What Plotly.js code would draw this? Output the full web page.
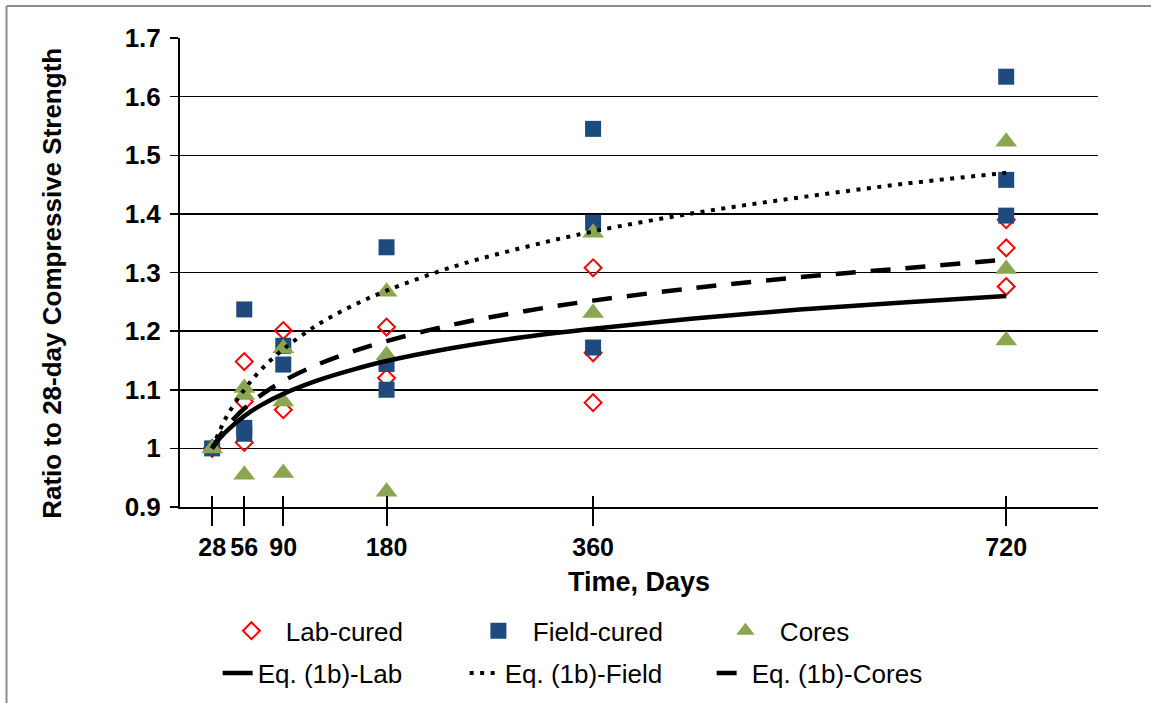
<!DOCTYPE html>
<html>
<head>
<meta charset="utf-8">
<script src="https://cdn.plot.ly/plotly-3.0.1.min.js"></script>
<style>html,body{margin:0;padding:0;background:#fff;}#chart{width:1151px;height:703px;}</style>
</head>
<body>
<div id="chart"></div>
<script>
// Measured points
const labDays   = [28, 56, 56, 56, 90, 90, 180, 180, 360, 360, 360, 720, 720, 720];
const labVals   = [1.0, 1.148, 1.08, 1.01, 1.201, 1.066, 1.207, 1.12, 1.308, 1.163, 1.078, 1.39, 1.342, 1.276];
const fieldDays = [28, 56, 56, 56, 90, 90, 180, 180, 180, 360, 360, 360, 720, 720, 720];
const fieldVals = [1.0, 1.237, 1.035, 1.025, 1.175, 1.143, 1.343, 1.144, 1.100, 1.545, 1.385, 1.172, 1.634, 1.458, 1.397];
const coresDays = [28, 56, 56, 56, 90, 90, 90, 180, 180, 180, 360, 360, 720, 720, 720];
const coresVals = [1.0, 1.103, 1.091, 0.955, 1.171, 1.080, 0.958, 1.267, 1.159, 0.926, 1.368, 1.231, 1.523, 1.306, 1.184];

// Fitted curves
const curveDays = [28, 35, 42, 56, 70, 90, 120, 150, 180, 240, 300, 360, 450, 540, 630, 720];
const eqLab     = [1.000, 1.018, 1.032, 1.055, 1.073, 1.093, 1.116, 1.134, 1.149, 1.172, 1.190, 1.204, 1.222, 1.237, 1.249, 1.260];
const eqField   = [1.000, 1.032, 1.059, 1.100, 1.133, 1.169, 1.211, 1.243, 1.269, 1.311, 1.343, 1.370, 1.402, 1.428, 1.451, 1.470];
const eqCores   = [1.000, 1.022, 1.040, 1.068, 1.090, 1.115, 1.143, 1.165, 1.183, 1.212, 1.234, 1.252, 1.274, 1.292, 1.307, 1.322];

const xTicks = [28, 56, 90, 180, 360, 720];
const xTickText = ['28', '56', '90', '180', '360', '720'];
const yTicks = [0.9, 1.0, 1.1, 1.2, 1.3, 1.4, 1.5, 1.6, 1.7];
const yTickText = ['0.9', '1', '1.1', '1.2', '1.3', '1.4', '1.5', '1.6', '1.7'];

const NB = '\u00A0\u00A0';
const FONT = 'Liberation Sans, Arial, sans-serif';

const traces = [
  {x: labDays, y: labVals, name: NB + 'Lab-cured', type: 'scatter', mode: 'markers', legend: 'legend',
   marker: {symbol: 'diamond-open', size: 13, color: '#FF0000', line: {width: 2, color: '#FF0000'}}},
  {x: fieldDays, y: fieldVals, name: NB + 'Field-cured', type: 'scatter', mode: 'markers', legend: 'legend',
   marker: {symbol: 'square', size: 16, color: '#1F4A7E'}},
  {x: coresDays, y: coresVals, name: NB + 'Cores', type: 'scatter', mode: 'markers', legend: 'legend',
   marker: {symbol: 'triangle-up', size: 19, color: '#8AA650'}},
  {x: curveDays, y: eqLab, name: 'Eq. (1b)-Lab', type: 'scatter', mode: 'lines', legend: 'legend2',
   line: {color: '#000', width: 4.5, shape: 'spline'}},
  {x: curveDays, y: eqField, name: 'Eq. (1b)-Field', type: 'scatter', mode: 'lines', legend: 'legend2',
   line: {color: '#000', width: 4, dash: '4px,6.5px', shape: 'spline'}},
  {x: curveDays, y: eqCores, name: 'Eq. (1b)-Cores', type: 'scatter', mode: 'lines', legend: 'legend2',
   line: {color: '#000', width: 4.5, dash: '20px,15px', shape: 'spline'}},
  // invisible helper for inside tick marks
  {x: [28], y: [1], xaxis: 'x2', yaxis: 'y', type: 'scatter', mode: 'markers', showlegend: false, hoverinfo: 'skip',
   marker: {opacity: 0}}
];

const layout = {
  width: 1151, height: 703,
  paper_bgcolor: '#fff', plot_bgcolor: '#fff',
  margin: {l: 180, r: 53, t: 38, b: 196, autoexpand: false},
  font: {family: FONT, color: '#000'},
  showlegend: true,
  xaxis: {
    range: [0, 800], tickmode: 'array', tickvals: xTicks, ticktext: xTickText, tickangle: 0,
    showgrid: false, zeroline: false, showline: true, linecolor: '#000', linewidth: 2,
    ticks: 'outside', ticklen: 17, tickwidth: 2, tickcolor: '#000',
    tickfont: {family: FONT, size: 25, color: '#000', weight: 'bold'},
    title: {text: '<b>Time, Days</b>', font: {family: FONT, size: 27, color: '#000'}, standoff: 12}
  },
  xaxis2: {
    range: [0, 800], overlaying: 'x', anchor: 'y', side: 'bottom', tickmode: 'array', tickvals: xTicks,
    showticklabels: false, showgrid: false, zeroline: false, showline: false,
    ticks: 'inside', ticklen: 11, tickwidth: 2, tickcolor: '#000'
  },
  yaxis: {
    range: [0.9, 1.7], tickmode: 'array', tickvals: yTicks, ticktext: yTickText,
    showgrid: true, gridcolor: '#000', gridwidth: 1.5, zeroline: false,
    showline: true, linecolor: '#000', linewidth: 2,
    ticks: 'outside', ticklen: 8, tickwidth: 1.5, tickcolor: '#000', ticklabelstandoff: 4,
    tickfont: {family: FONT, size: 26, color: '#000', weight: 'bold'},
    title: {text: '<b>Ratio to 28-day Compressive Strength\u00A0\u00A0\u00A0</b>', font: {family: FONT, size: 26, color: '#000'}, standoff: 56}
  },
  legend: {
    orientation: 'h', x: 0.056, y: -0.264, xanchor: 'left', yanchor: 'middle',
    entrywidth: 202, entrywidthmode: 'pixels',
    font: {family: FONT, size: 26, color: '#000'}, bgcolor: 'rgba(0,0,0,0)', traceorder: 'normal'
  },
  legend2: {
    orientation: 'h', x: 0.041, y: -0.354, xanchor: 'left', yanchor: 'middle',
    entrywidth: 202, entrywidthmode: 'pixels',
    font: {family: FONT, size: 26, color: '#000'}, bgcolor: 'rgba(0,0,0,0)', traceorder: 'normal'
  },
  shapes: [
    {type: 'line', xref: 'paper', yref: 'paper', x0: -0.189, x1: -0.189, y0: 1.068, y1: -0.42, line: {color: '#8c8c8c', width: 2}},
    {type: 'line', xref: 'paper', yref: 'paper', x0: -0.189, x1: 1.06, y0: 1.068, y1: 1.068, line: {color: '#8c8c8c', width: 2}}
  ]
};

Plotly.newPlot('chart', traces, layout, {displayModeBar: false, staticPlot: true});
</script>
</body>
</html>
